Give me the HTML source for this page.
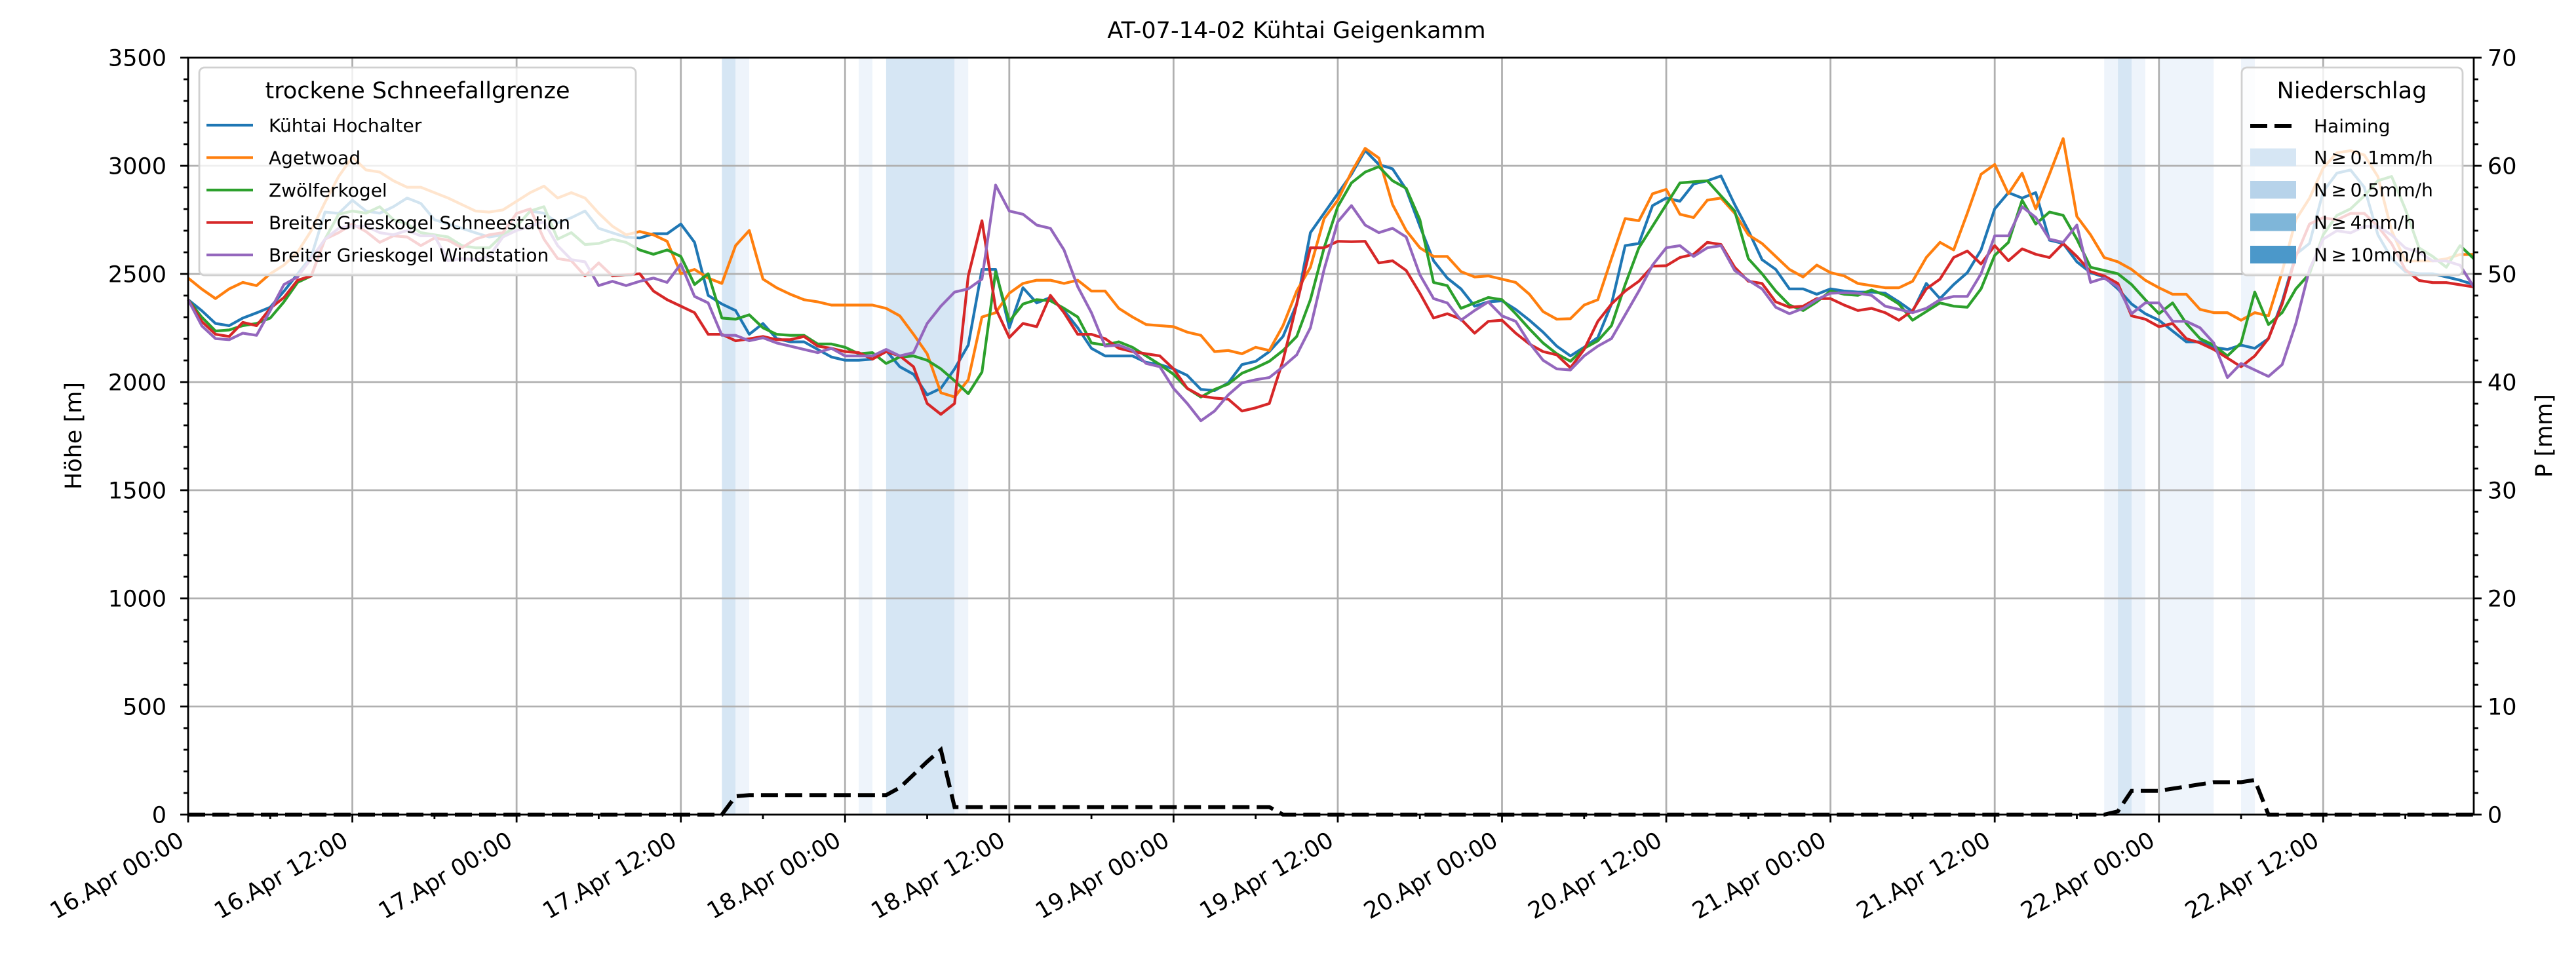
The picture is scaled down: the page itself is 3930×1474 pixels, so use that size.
<!DOCTYPE html>
<html><head><meta charset="utf-8"><style>
html,body{margin:0;padding:0;background:#fff;}
svg{display:block;font-family:"DejaVu Sans","Liberation Sans",sans-serif;}
</style></head><body>
<svg id="chart" xmlns="http://www.w3.org/2000/svg" width="3930" height="1474" viewBox="0 0 3930 1474">
<rect x="0" y="0" width="3930" height="1474" fill="#fff"/>
<g id="bands"></g>
<g id="grid"></g>
<g id="series"></g>
<g id="axes"></g>
<text x="1978" y="58" font-size="35" text-anchor="middle">AT-07-14-02 Kühtai Geigenkamm</text>
<text transform="translate(124,665) rotate(-90)" font-size="35" text-anchor="middle">Höhe [m]</text>
<text transform="translate(3893,665) rotate(-90)" font-size="35" text-anchor="middle">P [mm]</text>
<g id="legend1"></g>
<g id="legend2"></g>
</svg>
<script>
const hours = Array.from({length:168},(_, i)=>i);
const kuehtai = [2381,2330,2271,2261,2296,2320,2346,2420,2500,2580,2786,2780,2841,2791,2781,2811,2851,2826,2751,2731,2711,2690,2671,2681,2720,2791,2781,2736,2760,2791,2711,2690,2670,2666,2686,2686,2731,2646,2401,2361,2331,2221,2271,2201,
2186,2186,2151,2116,2101,2101,2106,2146,2071,2036,1941,1971,2061,2171,2521,2521,2251,2436,2366,2391,2331,2251,2156,2121,2121,2121,2091,2081,2061,2031,1966,1961,1996,2081,2096,2141,2211,2361,2691,2781,2871,2961,3071,3006,2986,2891,2721,2561,2481,2431,2351,2371,2376,2336,2286,2231,2166,2121,2161,2206,2361,2631,2641,2816,2851,2836,2916,2931,2953,2821,2701,2566,2521,2431,2431,2406,2431,2421,2416,2416,2411,2371,2326,2456,2386,2451,2506,2611,2801,2876,2851,2876,2656,2641,2556,2506,2486,2431,2361,2316,2286,2236,2186,2186,2161,2151,2171,2156,2201,2371,2591,2641,2881,2966,2981,2901,2681,2571,2511,2501,2501,2486,2471,2451];
const agetwoad = [2481,2430,2386,2431,2461,2446,2501,2541,2601,2701,2831,2951,3041,2981,2971,2931,2901,2901,2876,2851,2821,2791,2786,2796,2836,2876,2906,2851,2876,2851,2781,2721,2681,2696,2681,2651,2501,2521,2481,2456,2631,2701,2476,2436,
2406,2381,2371,2356,2356,2356,2356,2341,2306,2221,2131,1951,1931,2011,2301,2321,2411,2456,2471,2471,2456,2471,2421,2421,2341,2301,2266,2261,2256,2231,2216,2141,2146,2131,2161,2146,2261,2421,2531,2756,2841,2971,3081,3036,2821,2701,2621,2581,2581,2511,2486,2491,2476,2461,2406,2326,2291,2293,2356,2381,2571,2756,2746,2871,2891,2776,2761,2841,2851,2781,2681,2641,2581,2521,2486,2541,2506,2491,2456,2446,2436,2436,2466,2576,2646,2611,2781,2961,3006,2871,2966,2801,2961,3126,2766,2681,2576,2556,2521,2471,2436,2406,2406,2336,2321,2321,2286,2321,2306,2511,2751,2850,2990,3060,3070,3050,2950,2700,2560,2560,2560,2570,2590,2590];
const zwoelfer = [2381,2300,2236,2241,2261,2271,2296,2371,2461,2491,2661,2776,2791,2781,2811,2751,2731,2691,2681,2671,2631,2621,2621,2681,2721,2791,2811,2661,2691,2636,2641,2661,2646,2611,2591,2611,2581,2451,2501,2296,2291,2311,2251,2221,
2216,2216,2176,2176,2161,2131,2136,2086,2116,2121,2101,2061,2006,1946,2046,2511,2281,2361,2381,2376,2341,2301,2181,2171,2186,2161,2121,2081,2036,1971,1931,1966,1991,2041,2066,2096,2146,2211,2381,2621,2811,2921,2971,2996,2931,2896,2751,2461,2446,2341,2366,2391,2381,2316,2246,2181,2131,2096,2156,2191,2261,2451,2621,2721,2821,2921,2926,2931,2861,2791,2571,2501,2421,2356,2331,2371,2421,2406,2401,2426,2401,2361,2286,2326,2366,2351,2346,2431,2586,2646,2841,2731,2786,2771,2661,2531,2516,2501,2451,2381,2316,2366,2271,2201,2171,2121,2181,2416,2266,2321,2431,2501,2681,2771,2801,2861,2931,2951,2800,2621,2581,2531,2631,2571];
const schneestation = [2381,2280,2221,2211,2276,2261,2341,2391,2471,2491,2661,2691,2731,2696,2646,2676,2671,2631,2666,2656,2621,2661,2681,2691,2780,2801,2661,2571,2561,2491,2551,2491,2496,2501,2421,2381,2351,2321,2221,2221,2191,2200,2211,2196,
2196,2211,2166,2156,2141,2136,2106,2141,2121,2071,1901,1851,1901,2491,2746,2341,2206,2271,2256,2401,2321,2221,2221,2201,2156,2141,2131,2121,2061,1971,1936,1926,1921,1866,1881,1901,2100,2361,2621,2621,2651,2649,2651,2551,2561,2516,2411,2296,2316,2291,2226,2281,2286,2226,2176,2141,2126,2066,2151,2281,2361,2421,2466,2536,2538,2576,2591,2646,2636,2531,2466,2456,2371,2346,2351,2386,2386,2356,2331,2341,2321,2286,2331,2431,2476,2576,2606,2546,2631,2561,2616,2591,2576,2641,2581,2511,2491,2456,2306,2291,2256,2271,2201,2181,2151,2111,2071,2121,2201,2361,2581,2731,2760,2750,2780,2780,2720,2640,2520,2470,2460,2460,2450,2440];
const windstation = [2381,2260,2201,2196,2226,2216,2331,2451,2486,2571,2661,2711,2721,2721,2691,2681,2701,2676,2676,2561,2571,2566,2581,2671,2701,2721,2741,2631,2566,2556,2446,2466,2446,2466,2481,2461,2546,2396,2366,2216,2216,2191,2205,2181,
2166,2151,2136,2156,2121,2121,2121,2151,2121,2136,2271,2351,2416,2431,2476,2911,2791,2776,2726,2711,2611,2441,2321,2166,2171,2146,2086,2071,1971,1901,1821,1866,1941,1996,2011,2021,2071,2126,2251,2521,2741,2816,2726,2691,2711,2671,2496,2386,2366,2286,2331,2371,2306,2281,2181,2101,2061,2056,2121,2166,2201,2311,2421,2541,2621,2631,2581,2621,2631,2516,2471,2431,2346,2316,2341,2381,2411,2413,2411,2401,2351,2336,2321,2341,2381,2396,2396,2501,2676,2676,2811,2761,2661,2646,2726,2461,2481,2441,2316,2366,2366,2281,2281,2251,2181,2021,2086,2056,2026,2081,2271,2521,2661,2700,2690,2720,2720,2680,2620,2600,2560,2560,2540,2440];
const haiming = [
0,0,0,0,0,0,0,0,0,0,
0,0,0,0,0,0,0,0,0,0,
0,0,0,0,0,0,0,0,0,0,
0,0,0,0,0,0,0,0,0,0,
1.7,1.8,1.8,1.8,1.8,1.8,1.8,1.8,1.8,1.8,
1.8,1.8,2.5,3.7,4.9,6.0,0.7,0.7,0.7,0.7,
0.7,0.7,0.7,0.7,0.7,0.7,0.7,0.7,0.7,0.7,
0.7,0.7,0.7,0.7,0.7,0.7,0.7,0.7,0.7,0.7,
0,0,0,0,0,0,0,0,0,0,
0,0,0,0,0,0,0,0,0,0,
0,0,0,0,0,0,0,0,0,0,
0,0,0,0,0,0,0,0,0,0,
0,0,0,0,0,0,0,0,0,0,
0,0,0,0,0,0,0,0,0,0,
0,0.3,2.2,2.2,2.2,2.4,2.6,2.8,3.0,3.0,
3.0,3.2,0,0,0,0,0,0,0,0,
0,0,0,0,0,0,0,0];
const bandStart = [39,40,49,51,56,140,141,142,144,150];
const bandEnd   = [40,41,50,56,57,141,142,143,148,151];
const bandClass = ['p01','low','low','p01','low','low','p01','low','low','low'];
const xTickLabels = ['16.Apr 00:00','16.Apr 12:00','17.Apr 00:00','17.Apr 12:00','18.Apr 00:00','18.Apr 12:00','19.Apr 00:00','19.Apr 12:00','20.Apr 00:00','20.Apr 12:00','21.Apr 00:00','21.Apr 12:00','22.Apr 00:00','22.Apr 12:00'];
const yTicksLeft = [0,500,1000,1500,2000,2500,3000,3500];
const yTicksRight = [0,10,20,30,40,50,60,70];

const L=287,R=3774,T=88,B=1243,HMAX=167;
const NS='http://www.w3.org/2000/svg';
function xs(h){return L+(h/HMAX)*(R-L);}
function yl(v){return B-(v/3500)*(B-T);}
function yr(v){return B-(v/70)*(B-T);}
function mk(tag,attrs,parent){const e=document.createElementNS(NS,tag);for(const k in attrs)e.setAttribute(k,attrs[k]);parent.appendChild(e);return e;}
const bandColors={low:'#eef4fb',p01:'#d6e6f4'};
const gB=document.getElementById('bands');
for(let i=0;i<bandStart.length;i++){
  const r=mk('rect',{x:xs(bandStart[i]),y:T,width:xs(bandEnd[i])-xs(bandStart[i]),height:B-T,fill:bandColors[bandClass[i]]},gB);
  
  
}
const gG=document.getElementById('grid');
xTickLabels.forEach((t,i)=>{const x=xs(i*12);const l=mk('line',{x1:x,x2:x,y1:T,y2:B,stroke:'#b0b0b0','stroke-width':2.8},gG);
  
  });
yTicksLeft.forEach(v=>{const y=yl(v);const l=mk('line',{x1:L,x2:R,y1:y,y2:y,stroke:'#b0b0b0','stroke-width':2.8},gG);
  
  });
const series=[['kuehtai',kuehtai,'#1f77b4'],['agetwoad',agetwoad,'#ff7f0e'],['zwoelferkogel',zwoelfer,'#2ca02c'],['schneestation',schneestation,'#d62728'],['windstation',windstation,'#9467bd']];
const gS=document.getElementById('series');
series.forEach(s=>{const d=s[1].map((v,i)=>(i?'L':'M')+xs(hours[i]).toFixed(1)+','+yl(v).toFixed(1)).join('');
  const p=mk('path',{d:d,fill:'none',stroke:s[2],'stroke-width':4.2,'stroke-linejoin':'round'},gS);
  
  });
const hd=haiming.map((v,i)=>(i?'L':'M')+xs(hours[i]).toFixed(1)+','+yr(v).toFixed(1)).join('');
const hp=mk('path',{d:hd,fill:'none',stroke:'#000','stroke-width':6,'stroke-dasharray':'26 11'},gS);


const gA=document.getElementById('axes');
const fr=mk('rect',{x:L,y:T,width:R-L,height:B-T,fill:'none',stroke:'#000','stroke-width':2.8},gA);


for(let h=0;h<=HMAX;h+=6){const x=xs(h);const maj=h%12===0;mk('line',{x1:x,x2:x,y1:B,y2:B+(maj?12:7),stroke:'#000','stroke-width':2.8},gA);}
xTickLabels.forEach((t,i)=>{const x=xs(i*12)-4,y=1289;const tx=mk('text',{transform:`translate(${x},${y}) rotate(-30)`,'text-anchor':'end','font-size':35},gA);tx.textContent=t;
  
  });
for(let v=0;v<=3500;v+=100){const y=yl(v);const maj=v%500===0;mk('line',{x1:L,x2:L-(maj?12:7),y1:y,y2:y,stroke:'#000','stroke-width':2.8},gA);}
yTicksLeft.forEach(v=>{const tx=mk('text',{x:254,y:yl(v)+12.5,'text-anchor':'end','font-size':35},gA);tx.textContent=v;
  
  });
for(let v=0;v<=70;v+=2){const y=yr(v);const maj=v%10===0;mk('line',{x1:R,x2:R+(maj?12:7),y1:y,y2:y,stroke:'#000','stroke-width':2.8},gA);}
yTicksRight.forEach(v=>{const tx=mk('text',{x:3795,y:yr(v)+12.5,'text-anchor':'start','font-size':35},gA);tx.textContent=v;
  
  });
// legend 1
const g1=document.getElementById('legend1');
mk('rect',{x:304,y:103,width:666,height:317,rx:8,fill:'#fff','fill-opacity':0.8,stroke:'#d0d0d0','stroke-width':2.8},g1);
const t1=mk('text',{x:637,y:150,'text-anchor':'middle','font-size':35},g1);t1.textContent='trockene Schneefallgrenze';
const names1=['Kühtai Hochalter','Agetwoad','Zwölferkogel','Breiter Grieskogel Schneestation','Breiter Grieskogel Windstation'];
series.forEach((s,i)=>{const y=191+i*49.5;mk('line',{x1:315,x2:386,y1:y,y2:y,stroke:s[2],'stroke-width':4.2},g1);
  const tx=mk('text',{x:410,y:y+10,'font-size':28},g1);tx.textContent=names1[i];
  
  });
// legend 2
const g2=document.getElementById('legend2');
mk('rect',{x:3420,y:103,width:337,height:317,rx:8,fill:'#fff','fill-opacity':0.8,stroke:'#d0d0d0','stroke-width':2.8},g2);
const t2=mk('text',{x:3588,y:150,'text-anchor':'middle','font-size':35},g2);t2.textContent='Niederschlag';
mk('line',{x1:3433,x2:3503,y1:192,y2:192,stroke:'#000','stroke-width':6,'stroke-dasharray':'26 11'},g2);
const th=mk('text',{x:3530,y:202,'font-size':28},g2);th.textContent='Haiming';


const swC=['#d6e6f4','#b7d3ea','#7fb6d9','#4b98ca'];
const swL=['N\u2009≥\u20090.1mm/h','N\u2009≥\u20090.5mm/h','N\u2009≥\u20094mm/h','N\u2009≥\u200910mm/h'];
swC.forEach((c,i)=>{const y=240+i*49.5;mk('rect',{x:3433,y:y-13.5,width:70,height:27,fill:c},g2);
  const tx=mk('text',{x:3530,y:y+10,'font-size':28},g2);tx.textContent=swL[i];
  
  });
</script>
</body></html>
